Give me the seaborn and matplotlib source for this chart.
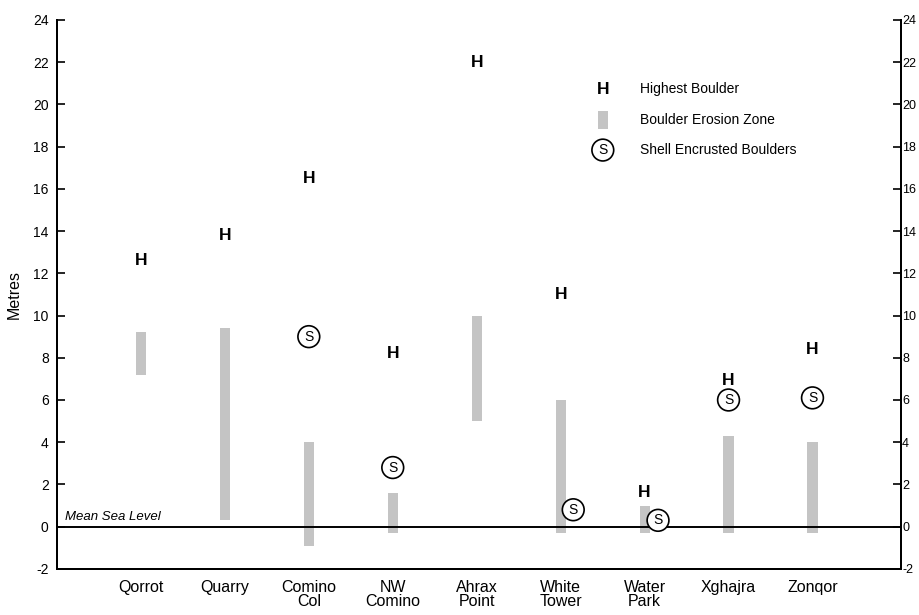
import matplotlib.pyplot as plt
import numpy as np
import seaborn as sns

sites = ["Qorrot", "Quarry", "Comino\nCol", "NW\nComino", "Ahrax\nPoint",
         "White\nTower", "Water\nPark", "Xghajra", "Zonqor"]
zone_bottom = [7.2, 0.3, -0.9, -0.3, 5.0, -0.3, -0.3, -0.3, -0.3]
zone_top = [9.2, 9.4, 4.0, 1.6, 10.0, 6.0, 1.0, 4.3, 4.0]
highest_boulder = [12.6, 13.8, 16.5, 8.2, 22.0, 11.0, 1.6, 6.9, 8.4]
# shell encrusted boulders (None where absent), with small sideways shift
shell_level = [None, None, 9.0, 2.8, None, 0.8, 0.3, 6.0, 6.1]
shell_shift = [0, 0, 0, 0, 0, 0.15, 0.16, 0, 0]
y_ticks = list(range(-2, 25, 2))

sns.set_style("ticks")
plt.rcParams["font.family"] = ["Liberation Sans", "DejaVu Sans"]
plt.rcParams["axes.unicode_minus"] = False
plt.rcParams["text.color"] = "black"
plt.rcParams["axes.labelcolor"] = "black"
plt.rcParams["xtick.color"] = "black"
plt.rcParams["ytick.color"] = "black"
plt.rcParams["axes.edgecolor"] = "black"

fig = plt.figure(figsize=(9.19, 6.15), dpi=100)
ax = fig.add_axes([0.062, 0.075, 0.918, 0.8925])

x = np.arange(len(sites))
heights = [t - b for t, b in zip(zone_top, zone_bottom)]
zone_color = "#c4c4c4"
ax.bar(x, heights, bottom=zone_bottom, width=0.12, color=zone_color, linewidth=0)

# mean sea level
ax.axhline(0, color="black", lw=1.4, zorder=3)
ax.text(-0.9, 0.15, "Mean Sea Level", style="italic", fontsize=9.5,
        ha="left", va="bottom")

for xi, h in zip(x, highest_boulder):
    ax.text(xi, h, "H", fontsize=12.5, fontweight="bold", ha="center", va="center", zorder=4)

circle = dict(boxstyle="circle,pad=0.28", fc="white", ec="black", lw=1.2)
for xi, s, dx in zip(x, shell_level, shell_shift):
    if s is None:
        continue
    ax.text(xi + dx, s, "S", fontsize=10, ha="center", va="center", zorder=5, bbox=circle)

# legend drawn by hand
lx, tx = 0.647, 0.691
ax.text(lx, 0.874, "H", transform=ax.transAxes, fontsize=12.5, fontweight="bold",
        ha="center", va="center")
ax.text(tx, 0.874, "Highest Boulder", transform=ax.transAxes, fontsize=10, va="center")
ax.add_patch(plt.Rectangle((lx - 0.006, 0.802), 0.012, 0.033, transform=ax.transAxes,
                           color=zone_color, lw=0))
ax.text(tx, 0.818, "Boulder Erosion Zone", transform=ax.transAxes, fontsize=10, va="center")
ax.text(lx, 0.763, "S", transform=ax.transAxes, fontsize=10, ha="center", va="center",
        bbox=circle)
ax.text(tx, 0.763, "Shell Encrusted Boulders", transform=ax.transAxes, fontsize=10, va="center")

ax.set_xlim(-1.0, 9.05)
ax.set_ylim(-2, 24)
ax.set_yticks(y_ticks)
ax.set_xticks(x)
ax.set_xticklabels(sites, fontsize=11.5, linespacing=0.95)
ax.tick_params(axis="x", length=0, pad=8)
ax.tick_params(axis="y", direction="in", length=6, width=1.2, labelsize=10, pad=6)
ax.set_ylabel("Metres", fontsize=11.5, labelpad=8)

# right-hand scale, squeezed against the figure edge
ax2 = ax.twinx()
ax2.set_ylim(ax.get_ylim())
ax2.set_yticks(y_ticks)
ax2.tick_params(axis="y", direction="in", length=6, width=1.2, labelsize=9, pad=1)

for a in (ax, ax2):
    for side in ["left", "right", "bottom"]:
        a.spines[side].set_linewidth(1.4)
    a.spines["top"].set_visible(False)

fig.savefig("out.png", dpi=100)
